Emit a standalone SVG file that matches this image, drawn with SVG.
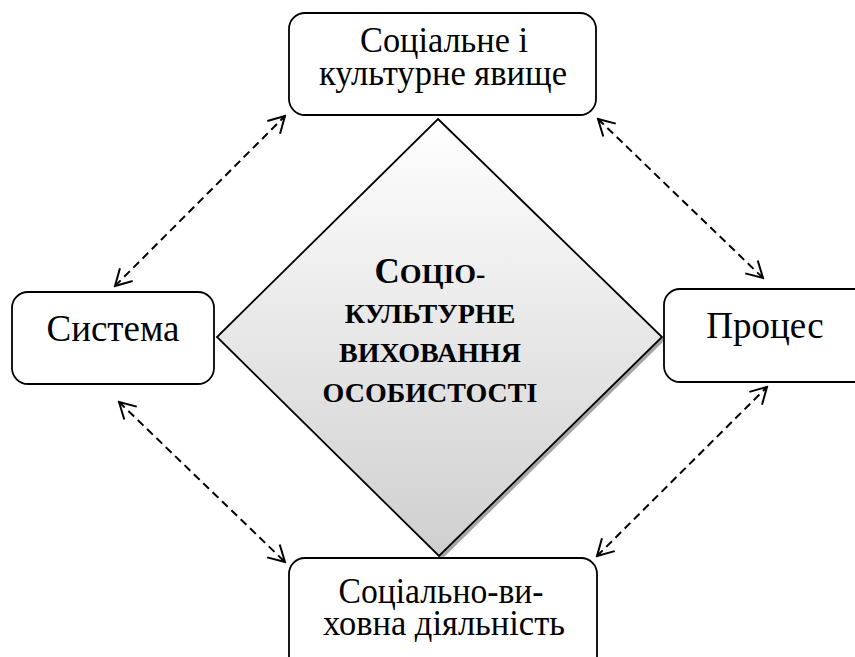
<svg xmlns="http://www.w3.org/2000/svg" width="855" height="657" viewBox="0 0 855 657">
<style>
.box{fill:#fff;stroke:#000;stroke-width:1.8}
.t{font-family:"Liberation Serif","Times New Roman",serif;fill:#000;text-anchor:middle}
.lt{font-size:35px}
.lb{font-size:36px}
.big{font-size:37px}
.ctr{font-size:28px;font-weight:bold}
.con{fill:none;stroke:#000;stroke-width:2;stroke-dasharray:8 5;marker-start:url(#ah);marker-end:url(#ah)}
</style>
<defs>
<linearGradient id="g" x1="0" y1="0" x2="0" y2="1">
<stop offset="0" stop-color="#ffffff"/>
<stop offset="1" stop-color="#cfcfcf"/>
</linearGradient>
<marker id="ah" markerUnits="userSpaceOnUse" viewBox="-19 -11 21 22" refX="0" refY="0" markerWidth="21" markerHeight="22" orient="auto-start-reverse">
<path d="M-16,-9 L0,0 L-16,9" fill="none" stroke="#000" stroke-width="2" stroke-dasharray="none"/>
</marker>
</defs>
<rect width="855" height="657" fill="#fff"/>
<g id="connectors">
<line class="con" x1="115" y1="286" x2="285" y2="116"/>
<line class="con" x1="598" y1="119" x2="763" y2="278"/>
<line class="con" x1="119" y1="402" x2="285" y2="562"/>
<line class="con" x1="597" y1="556" x2="767" y2="387"/>
</g>
<g id="center">
<polygon points="441,122 665,340 442,559 220,340" fill="#a6a6a6"/>
<polygon points="438,119 662,337 439,556 217,337" fill="url(#g)" stroke="#000" stroke-width="1.8"/>
<text class="t ctr"><tspan x="430" y="283"><tspan font-size="35px">С</tspan>ОЦІО-</tspan><tspan x="430" y="323">КУЛЬТУРНЕ</tspan><tspan x="430" y="362">ВИХОВАННЯ</tspan><tspan x="430" y="402">ОСОБИСТОСТІ</tspan></text>
</g>
<g id="top">
<rect class="box" x="289" y="13" width="307" height="102" rx="16"/>
<text class="t lt"><tspan x="444" y="52" textLength="168" lengthAdjust="spacingAndGlyphs">Соціальне і</tspan><tspan x="443" y="85" textLength="248" lengthAdjust="spacingAndGlyphs">культурне явище</tspan></text>
</g>
<g id="left">
<rect class="box" x="12" y="292" width="202" height="92" rx="16"/>
<text class="t big" x="113" y="341">Система</text>
</g>
<g id="right">
<rect class="box" x="664" y="289" width="210" height="93" rx="16"/>
<text class="t big" x="765" y="338">Процес</text>
</g>
<g id="bottom">
<rect class="box" x="289" y="558" width="308" height="120" rx="16"/>
<text class="t lb"><tspan x="441" y="603" textLength="205" lengthAdjust="spacingAndGlyphs">Соціально-ви-</tspan><tspan x="444" y="635" textLength="242" lengthAdjust="spacingAndGlyphs">ховна діяльність</tspan></text>
</g>
</svg>
